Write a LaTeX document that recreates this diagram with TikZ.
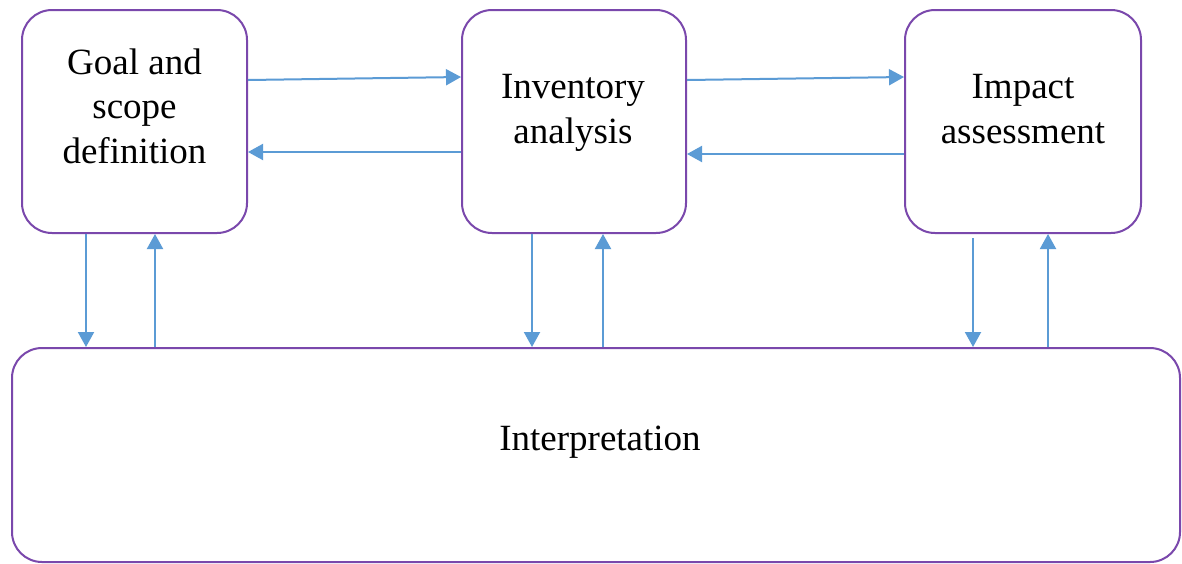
\documentclass[tikz,border=0pt]{standalone}
\usepackage{fontspec}
\setmainfont{Liberation Serif}
\usetikzlibrary{arrows.meta}
\definecolor{boxpurple}{RGB}{122,72,172}
\definecolor{arrblue}{RGB}{91,155,213}
\tikzset{
  stagebox/.style={draw=boxpurple, line width=2pt, rectangle, rounded corners=30pt, inner sep=0pt, fill=white},
  lbl/.style={font=\fontsize{37}{44.5}\selectfont, align=center, inner sep=0pt, anchor=base},
  arr/.style={draw=arrblue, line width=2pt, -{Triangle[length=15pt,width=16pt]}, shorten >=0pt}
}
\begin{document}
\begin{tikzpicture}[x=1pt,y=-1pt]
\useasboundingbox (0,0) rectangle (1182,563);
\fill[white] (0,0) rectangle (1182,563);
\begin{scope}
\clip (0,0) rectangle (1182,563);
\node[stagebox, minimum width=225pt, minimum height=223pt] (goal) at (134.5,121.5) {};
\node[stagebox, minimum width=224pt, minimum height=223pt] (inv) at (574,121.5) {};
\node[stagebox, minimum width=236pt, minimum height=223pt] (imp) at (1023,121.5) {};
\node[stagebox, minimum width=1168pt, minimum height=214pt] (interp) at (596,455) {};
\end{scope}
\node[lbl] (goalt) at (134.5,163) {Goal and\\scope\\definition};
\node[lbl] (invt) at (573,143) {Inventory\\analysis};
\node[lbl] (impt) at (1023,143) {Impact\\assessment};
\node[lbl] (interpt) at (600,450) {Interpretation};
% x positions of vertical connectors
\coordinate (ga) at (86,0);
\coordinate (gb) at (155,0);
\coordinate (ia) at (532,0);
\coordinate (ib) at (603,0);
\coordinate (ma) at (973,0);
\coordinate (mb) at (1048,0);
% y positions of horizontal connectors
\coordinate (ya) at (0,80);
\coordinate (yb) at (0,77);
\coordinate (yc) at (0,152);
\coordinate (yd) at (0,154);
% horizontal connectors
\draw[arr] (goal.east |- ya) -- (inv.west |- yb);
\draw[arr] (inv.west |- yc) -- (goal.east |- yc);
\draw[arr] (inv.east |- ya) -- (imp.west |- yb);
\draw[arr] (imp.west |- yd) -- (inv.east |- yd);
% vertical connectors
\draw[arr] (goal.south -| ga) -- (interp.north -| ga);
\draw[arr] (interp.north -| gb) -- (goal.south -| gb);
\draw[arr] (inv.south -| ia) -- (interp.north -| ia);
\draw[arr] (interp.north -| ib) -- (inv.south -| ib);
\draw[arr] ([yshift=-4pt]imp.south -| ma) -- (interp.north -| ma);
\draw[arr] (interp.north -| mb) -- (imp.south -| mb);
\end{tikzpicture}
\end{document}
